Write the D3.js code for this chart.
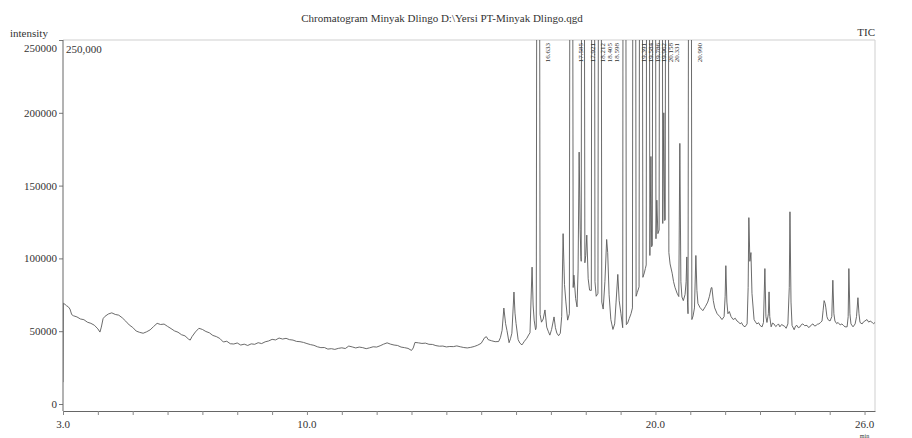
<!DOCTYPE html>
<html>
<head>
<meta charset="utf-8">
<script src="https://cdn.jsdelivr.net/npm/d3@7"></script>
<style>
  html, body { margin: 0; padding: 0; background: #fff; }
  svg { display: block; }
  text { font-family: "Liberation Serif", "DejaVu Serif", serif; fill: #333; }
</style>
</head>
<body>
<svg id="chart" width="912" height="438"></svg>
<script>
// TIC trace, [retention time (min), intensity (x1000 counts)]
// values above 250 are off scale and get clipped at the top of the frame
var earlyTrace = [
  [3.00,15],[3.01,69.2],[3.06,68.4],[3.1,67.5],[3.15,66.8],[3.2,65.2],[3.25,61.4],[3.3,60.6],
  [3.4,59.8],[3.5,58.4],[3.6,57.9],[3.7,56.2],[3.8,55.4],[3.9,54.1],[4.0,51.6],[4.06,49.4],
  [4.1,52.8],[4.15,58.6],[4.2,60.1],[4.3,61.8],[4.4,62.6],[4.5,61.5],[4.6,61.0],[4.7,59.2],
  [4.8,56.9],[4.9,54.3],[5.0,52.6],[5.1,50.1],[5.2,49.2],[5.3,48.6],[5.4,49.6],[5.5,50.9],
  [5.6,53.2],[5.7,55.4],[5.8,54.6],[5.9,54.9],[6.0,53.3],[6.1,51.8],[6.2,50.2],[6.3,49.3],
  [6.4,47.6],[6.5,46.8],[6.6,44.6],[6.65,43.9],[6.7,46.2],[6.8,49.5],[6.9,52.0],[7.0,51.2],
  [7.1,49.8],[7.2,48.9],[7.3,47.1],[7.4,46.3],[7.5,45.0],[7.6,42.6],[7.7,43.1],[7.8,41.4],
  [7.9,41.2],[8.0,41.9],[8.1,40.5],[8.2,41.1],[8.3,40.2],[8.4,41.3],[8.5,41.0],[8.6,42.1],
  [8.7,41.5],[8.8,42.7],[8.9,43.3],[9.0,44.4],[9.1,44.0],[9.2,45.3],[9.3,44.6],[9.4,45.1],
  [9.5,44.2],[9.6,43.9],[9.7,43.0],[9.8,42.8],[9.9,42.3],[10.0,41.5],[10.1,40.8],[10.2,40.3],
  [10.3,39.3],[10.4,38.7],[10.5,38.8],[10.6,37.7],[10.7,38.0],[10.8,37.5],[10.9,38.2],[11.0,38.6],
  [11.1,38.1],[11.2,39.8],[11.3,39.2],[11.4,38.5],[11.5,39.1],[11.6,38.7],[11.7,38.0],[11.8,38.6],
  [11.9,39.3],[12.0,39.1],[12.1,40.0],[12.2,41.1],[12.3,42.0],[12.4,41.1],[12.5,40.5],[12.6,40.2],
  [12.7,39.1],[12.8,38.7],[12.9,38.2],[13.0,36.8],[13.05,38.5],[13.1,42.3],[13.2,42.0],[13.3,41.6],
  [13.4,41.8],[13.5,41.0],[13.6,40.9],[13.7,40.1],[13.8,39.7],[13.9,39.8],[14.0,39.2],[14.1,39.5],
  [14.2,39.4],[14.3,39.9],[14.4,39.3],[14.5,38.8],[14.6,38.5],[14.7,38.9],[14.8,39.5],[14.9,40.4],
  [15.0,41.7],[15.1,45.6],[15.15,46.2],[15.2,44.2],[15.3,43.4],[15.4,42.8],[15.5,42.9]
];

var peakTrace = [
  [15.55,45.5],[15.60,50.6],[15.65,65.9],[15.70,55.2],[15.74,50.4],[15.80,42.1],[15.84,44.8],
  [15.88,48.6],[15.94,76.9],[15.97,62.4],[16.00,55.3],[16.06,44.2],[16.11,41.8],[16.17,40.6],
  [16.24,43.1],[16.31,45.2],[16.36,47.4],[16.40,48.9],[16.46,94.0],[16.49,68.0],[16.52,57.6],
  [16.56,51.0],[16.58,52.4],[16.595,320],[16.675,320],[16.69,61.5],[16.73,56.2],[16.78,58.4],
  [16.83,64.6],[16.88,52.8],[16.93,49.6],[16.97,47.3],[17.02,51.2],[17.09,59.8],[17.13,52.4],
  [17.17,48.7],[17.22,46.9],[17.27,48.6],[17.31,60.0],[17.35,117.0],[17.39,82.0],[17.43,70.1],
  [17.48,57.6],[17.53,62.0],[17.545,320],[17.625,320],[17.64,80.0],[17.66,88.5],[17.71,72.4],
  [17.75,66.7],[17.78,92.0],[17.81,173.0],[17.84,120.0],[17.86,101.2],[17.87,98.0],[17.88,320],
  [17.96,320],[17.975,97.0],[18.00,102.0],[18.03,116.0],[18.07,86.0],[18.11,78.2],[18.16,78.0],
  [18.172,320],[18.252,320],[18.265,84.0],[18.30,74.0],[18.35,76.0],[18.365,320],[18.445,320],
  [18.46,70.0],[18.50,65.2],[18.55,84.0],[18.60,113.0],[18.63,104.0],[18.67,75.0],[18.72,58.0],
  [18.78,51.2],[18.83,55.0],[18.87,70.0],[18.92,89.0],[18.96,71.0],[19.01,62.0],[19.06,52.4],
  [19.07,320],[19.15,320],[19.165,54.5],[19.20,55.4],[19.25,58.8],[19.30,62.1],[19.34,66.0],
  [19.351,320],[19.431,320],[19.445,74.0],[19.48,76.6],[19.53,80.5],[19.544,320],[19.624,320],
  [19.64,87.0],[19.68,90.0],[19.71,93.0],[19.735,95.5],[19.746,320],[19.826,320],[19.84,102.0],
  [19.87,170.0],[19.89,108.0],[19.91,109.0],[19.922,320],[20.002,320],[20.015,113.5],[20.04,140.0],
  [20.07,117.0],[20.105,119.5],[20.118,320],[20.198,320],[20.21,124.0],[20.24,200.0],[20.265,126.0],
  [20.28,126.5],[20.291,320],[20.371,320],[20.385,104.0],[20.42,96.2],[20.48,89.8],[20.52,84.0],
  [20.56,80.2],[20.62,76.1],[20.67,73.8],[20.70,179.0],[20.73,84.0],[20.76,73.5],[20.80,71.0],
  [20.85,75.2],[20.88,84.0],[20.90,101.0],[20.92,70.0],[20.935,62.0],[20.95,320],[21.03,320],
  [21.045,58.0],[21.08,60.5],[21.12,66.0],[21.16,102.0],[21.19,78.0],[21.22,69.0],[21.28,66.2],
  [21.36,64.1],[21.43,66.8],[21.50,70.0]
];

var lateTrace = [
  [21.55,74.0],[21.60,79.8],[21.62,80.0],[21.66,71.0],[21.70,66.0],[21.77,62.0],[21.84,60.2],
  [21.91,58.0],[21.97,60.0],[22.00,74.0],[22.02,95.0],[22.05,70.0],[22.08,62.0],[22.12,63.5],
  [22.17,60.0],[22.23,58.0],[22.29,58.9],[22.34,57.0],[22.39,56.2],[22.43,55.0],[22.47,55.9],
  [22.51,54.0],[22.57,53.0],[22.63,55.0],[22.66,80.0],[22.68,128.0],[22.71,98.0],[22.74,104.0],
  [22.77,76.0],[22.83,58.0],[22.87,56.4],[22.91,55.0],[22.96,55.8],[23.00,54.0],[23.06,53.0],
  [23.10,56.0],[23.14,93.0],[23.17,60.0],[23.20,56.0],[23.24,62.0],[23.26,77.0],[23.28,60.0],
  [23.32,53.0],[23.36,55.6],[23.40,55.0],[23.45,53.2],[23.49,54.0],[23.53,55.0],[23.57,53.0],
  [23.62,54.6],[23.66,54.0],[23.71,53.3],[23.75,52.0],[23.80,55.0],[23.84,80.0],[23.86,132.0],
  [23.89,70.0],[23.92,54.0],[23.98,51.0],[24.02,53.5],[24.06,54.0],[24.10,52.4],[24.15,53.0],
  [24.19,54.6],[24.23,55.0],[24.28,53.8],[24.35,54.0],[24.39,52.6],[24.43,53.0],[24.48,54.5],
  [24.52,55.0],[24.57,53.5],[24.61,54.0],[24.65,54.8],[24.69,55.0],[24.74,56.0],[24.78,57.0],
  [24.81,64.0],[24.84,71.0],[24.87,69.0],[24.89,66.0],[24.92,60.0],[24.95,58.0],[25.01,57.0],
  [25.06,60.0],[25.09,85.0],[25.12,62.0],[25.15,57.0],[25.20,55.2],[25.24,56.0],[25.30,54.3],
  [25.35,55.0],[25.40,53.8],[25.44,53.0],[25.50,53.0],[25.53,60.0],[25.55,93.0],[25.58,62.0],
  [25.61,55.0],[25.67,53.0],[25.73,55.0],[25.77,60.0],[25.81,73.0],[25.84,62.0],[25.87,56.0],
  [25.93,55.0],[25.97,56.4],[26.01,57.0],[26.07,58.0],[26.12,56.2],[26.16,57.0],[26.22,56.0],
  [26.26,55.2],[26.30,56.0]
];

// labelled peaks (retention times printed at the top)
var peakTimes = [16.633, 17.585, 17.921, 18.212, 18.405, 18.598, 19.391, 19.584, 19.786, 19.962, 20.158, 20.331, 20.990];
var peakLabels = ["16.633", "17.585", "17.921", "18.212", "18.405", "18.598", "19.391", "19.584", "19.786", "19.962", "20.158", "20.331", "20.990"];

var yTickValues = [0, 50, 100, 150, 200, 250];
var yTickLabels = ["0", "50000", "100000", "150000", "200000", "250000"];
var xLabelValues = [3, 10, 20, 26];
var xLabelTexts = ["3.0", "10.0", "20.0", "26.0"];
var titleText = "Chromatogram Minyak Dlingo D:\\Yersi PT-Minyak Dlingo.qgd";

var svg = d3.select('#chart');
var plotLeft = 63, plotRight = 875, plotTop = 40, zeroY = 404, axisY = 411;

var x = d3.scaleLinear().domain([3.0, 26.3]).range([plotLeft, plotRight]);
var y = d3.scaleLinear().domain([0, 250]).range([zeroY, plotTop]);

svg.append('rect')
    .attr('width', 912).attr('height', 438).attr('fill', '#fff');

svg.append('defs').append('clipPath').attr('id', 'plotClip')
  .append('rect')
    .attr('x', plotLeft)
    .attr('y', plotTop)
    .attr('width', plotRight - plotLeft)
    .attr('height', axisY - plotTop);

// frame: light top and right edge
svg.append('path')
    .attr('d', 'M' + plotLeft + ',' + plotTop + 'H' + plotRight + 'V' + axisY)
    .attr('fill', 'none')
    .attr('stroke', '#cfcfcf')
    .attr('stroke-width', 1);

// trace
var trace = earlyTrace.concat(peakTrace, lateTrace);
var line = d3.line()
    .x(function(d) { return x(d[0]); })
    .y(function(d) { return y(d[1]); });

svg.append('path')
    .datum(trace)
    .attr('clip-path', 'url(#plotClip)')
    .attr('d', line)
    .attr('fill', 'none')
    .attr('stroke', '#5a5a5a')
    .attr('stroke-width', 0.9)
    .attr('stroke-linejoin', 'round');

// y axis
var yAxis = d3.axisLeft(y)
    .tickValues(yTickValues)
    .tickFormat(function(d, i) { return yTickLabels[i]; })
    .tickSize(4)
    .tickSizeOuter(0)
    .tickPadding(2);
var yG = svg.append('g')
    .attr('transform', 'translate(' + plotLeft + ',0)')
    .call(yAxis);
yG.select('.domain').remove();
yG.selectAll('.tick line').attr('stroke', '#777');
yG.selectAll('.tick text')
    .attr('font-family', '"Liberation Serif", "DejaVu Serif", serif')
    .attr('font-size', 11)
    .attr('fill', '#444')
    .attr('dy', function(d) { return d === 250 ? '1.05em' : '0.32em'; });

svg.append('line')
    .attr('x1', plotLeft).attr('x2', plotLeft)
    .attr('y1', plotTop).attr('y2', axisY)
    .attr('stroke', '#666')
    .attr('stroke-width', 1);

// x axis, a tick every minute
var xAxis = d3.axisBottom(x)
    .tickValues(d3.range(3, 27))
    .tickFormat('')
    .tickSize(4)
    .tickSizeOuter(0);
var xG = svg.append('g')
    .attr('transform', 'translate(0,' + axisY + ')')
    .call(xAxis);
xG.select('.domain').attr('stroke', '#666');
xG.selectAll('.tick line').attr('stroke', '#888');

svg.selectAll('text.xlabel').data(xLabelValues)
  .enter().append('text')
    .attr('class', 'xlabel')
    .attr('x', function(d) { return x(d); })
    .attr('y', 428)
    .attr('text-anchor', 'middle')
    .attr('font-size', 11)
    .attr('fill', '#444')
    .text(function(d, i) { return xLabelTexts[i]; });

svg.append('text')
    .attr('x', x(26))
    .attr('y', 438)
    .attr('text-anchor', 'middle')
    .attr('font-size', 6)
    .attr('fill', '#666')
    .text('min');

// peak retention time labels, rotated at the top
svg.selectAll('text.peak').data(peakTimes)
  .enter().append('text')
    .attr('class', 'peak')
    .attr('transform', function(d) {
      return 'translate(' + (x(d) + 12) + ',' + (plotTop + 3) + ') rotate(-90)';
    })
    .attr('text-anchor', 'end')
    .attr('font-size', 7)
    .attr('fill', '#666')
    .text(function(d, i) { return peakLabels[i]; });

// headings
svg.append('text')
    .attr('x', 442)
    .attr('y', 22)
    .attr('text-anchor', 'middle')
    .attr('font-size', 11)
    .attr('fill', '#444')
    .text(titleText);

svg.append('text')
    .attr('x', 10)
    .attr('y', 37)
    .attr('font-size', 11)
    .attr('fill', '#444')
    .text('intensity');

svg.append('text')
    .attr('x', plotRight)
    .attr('y', 36)
    .attr('text-anchor', 'end')
    .attr('font-size', 11)
    .attr('fill', '#444')
    .text('TIC');

svg.append('text')
    .attr('x', plotLeft + 3)
    .attr('y', 53)
    .attr('font-size', 11)
    .attr('fill', '#444')
    .text('250,000');
</script>
</body>
</html>
